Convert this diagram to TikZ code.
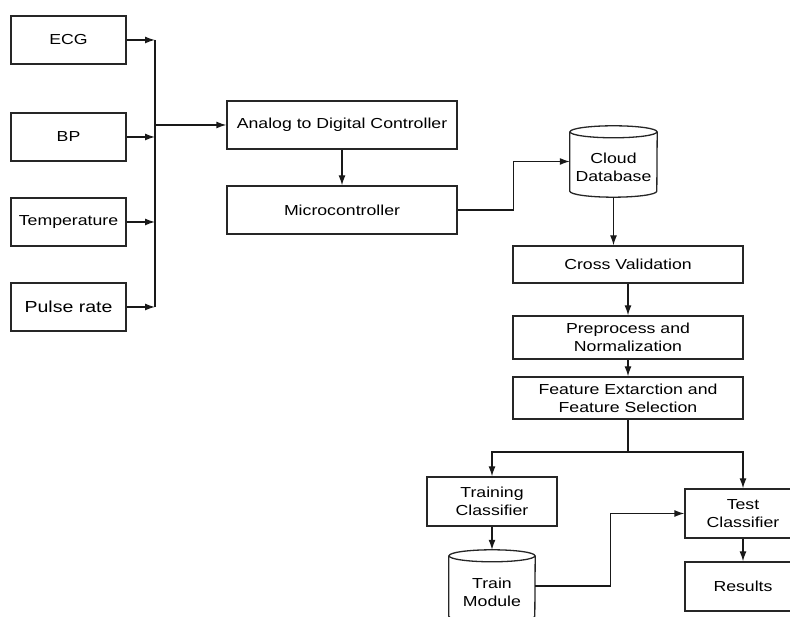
\documentclass[tikz,border=0pt]{standalone}
\usepackage{fontspec}
\setmainfont{Liberation Sans}[FakeStretch=1.22]
\usepackage{tikz}
\usetikzlibrary{arrows.meta,calc}
% outline of a drum (database) round a rectangular node, #2 = x radius
\newcommand{\drumline}[2]{%
  \draw[boxline] ([yshift=-6pt]#1.north) ellipse[x radius=#2pt, y radius=6pt];
  \draw[boxline] ([yshift=-6pt]#1.north west) -- ([yshift=6pt]#1.south west)
    arc[start angle=180, end angle=360, x radius=#2pt, y radius=6pt]
    -- ([yshift=-6pt]#1.north east);
}

\begin{document}
\begin{tikzpicture}[x=1pt, y=1pt,
    boxline/.style={line width=1.3pt, black!85},
    blk/.style={draw=black!85, line width=1.3pt, rectangle, align=center,
        inner sep=2pt, font=\fontsize{14.5}{18}\selectfont},
    drum/.style={rectangle, inner sep=0pt},
    drumtext/.style={align=center, yshift=-6pt, font=\fontsize{14.5}{18}\selectfont},
    arr/.style={line width=1.3pt, black!90, -{Latex[length=10pt,width=7pt]}},
    wire/.style={line width=1.3pt, black!90}]
    \useasboundingbox (0,0) rectangle (790,617);

    % Sensor inputs
    \node[blk, minimum width=115pt, minimum height=48pt] (ecg) at (68.5,577) {ECG};
    \node[blk, minimum width=115pt, minimum height=48pt] (bp) at (68.5,480) {BP};
    \node[blk, minimum width=115pt, minimum height=48pt] (temp) at (68.5,395) {Temperature};
    \node[blk, minimum width=115pt, minimum height=48pt, font=\fontsize{16}{18}\selectfont]
        (pulse) at (68.5,310) {Pulse rate};

    % Bus into the converter
    \coordinate (bus) at (155,0);
    \foreach \s in {ecg,bp,temp,pulse}
        \draw[arr] (\s.east) -- (\s.east -| bus);
    \draw[wire] (ecg.east -| bus) -- (pulse.east -| bus);

    % Acquisition
    \node[blk, minimum width=230pt, minimum height=48pt] (adc) at (342,492) {Analog to Digital Controller};
    \node[blk, minimum width=230pt, minimum height=48pt] (micro) at (342,407) {Microcontroller};
    \draw[arr] (adc.west -| bus) -- (adc.west);
    \draw[arr] (adc.south) -- (micro.north);

    % Cloud database
    \node[drum, minimum width=87pt, minimum height=71pt,
        label={[drumtext]center:Cloud\\Database}] (cloud) at (613.5,455.5) {};
    \drumline{cloud}{43.5}
    \draw[arr] (micro.east) -- ++(56,0) |- (cloud.west);

    % Processing chain
    \node[blk, minimum width=230pt, minimum height=37pt] (crossval) at (628,352.5) {Cross Validation};
    \node[blk, minimum width=230pt, minimum height=43pt] (prep) at (628,279.5) {Preprocess and\\Normalization};
    \node[blk, minimum width=230pt, minimum height=42pt] (feat) at (628,219) {Feature Extarction and\\Feature Selection};
    \draw[arr] (cloud.south) -- (cloud.south |- crossval.north);
    \draw[arr] (crossval.south) -- (prep.north);
    \draw[arr] (prep.south) -- (feat.north);

    % Training and testing
    \node[blk, minimum width=130pt, minimum height=49pt] (train) at (492,115.5) {Training\\Classifier};
    \node[blk, minimum width=116pt, minimum height=49pt] (test) at (743,103.5) {Test\\Classifier};
    \node[blk, minimum width=116pt, minimum height=49pt] (res) at (743,30.5) {Results};
    \node[drum, minimum width=86pt, minimum height=72pt,
        label={[drumtext]center:Train\\Module}] (tmod) at (492,31) {};
    \drumline{tmod}{43}

    \coordinate (split) at (628,165);
    \draw[wire] (feat.south) -- (split);
    \draw[arr] (split) -| (train.north);
    \draw[arr] (split) -| (test.north);
    \draw[arr] (train.south) -- (tmod.north);
    \draw[arr] (tmod.east) -- ++(75,0) |- (test.west);
    \draw[arr] (test.south) -- (res.north);
\end{tikzpicture}
\end{document}
